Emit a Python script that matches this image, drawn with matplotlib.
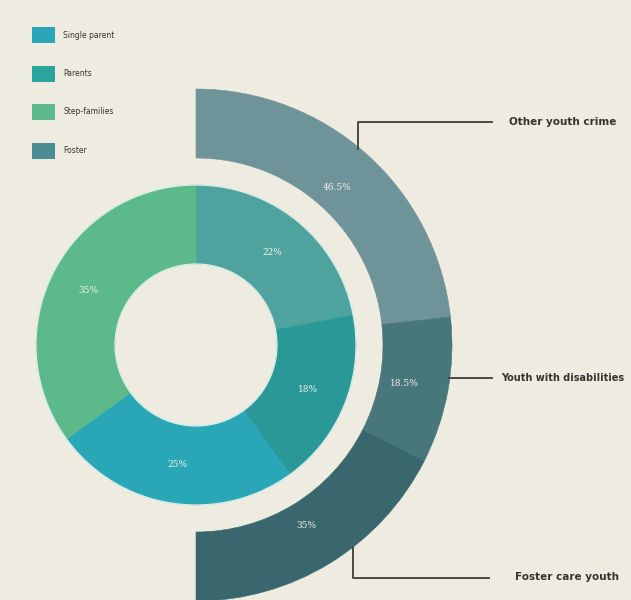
import numpy as np
import matplotlib.pyplot as plt

# inner ring: family background
inner_values = [22, 18, 25, 35]
inner_colors = ['#4fa39f', '#2a9896', '#2aa7b7', '#5cb98a']

# outer half ring: youth groups
outer_values = [46.5, 18.5, 35]
outer_labels = ['Other youth crime', 'Youth with disabilities', 'Foster care youth']
outer_colors = ['#6e9399', '#47777b', '#3a676d']

legend_labels = ['Single parent', 'Parents', 'Step-families', 'Foster']
legend_colors = ['#2aa7b7', '#2ba49e', '#5cb98a', '#4a8d93']

bg = '#eeece1'
W, H = 631, 600

fig = plt.figure(figsize=(W / 100, H / 100), dpi=100, facecolor=bg)
ax = fig.add_axes([0, 0, 1, 1])
ax.set_facecolor(bg)

cx, cy = 196, H - 345
r_in_out, r_in_hole = 160, 81
r_out_out, r_out_in = 256, 187

# inner donut
wedges, _ = ax.pie(inner_values, colors=inner_colors, startangle=90, counterclock=False,
                   center=(cx, cy), radius=r_in_out, frame=True,
                   wedgeprops=dict(width=r_in_out - r_in_hole, linewidth=0))
for w in wedges:
    w.set_edgecolor(w.get_facecolor())
    w.set_linewidth(0.4)
# faint light rim round the donut
for r in (r_in_out, r_in_hole):
    ax.add_patch(plt.Circle((cx, cy), r, fill=False, ec='#d9eee8', lw=0.9))

# outer ring covers the right half only: pad with an invisible remainder
pad = sum(outer_values)
owedges, _ = ax.pie(outer_values + [pad], colors=outer_colors + ['none'], startangle=90,
                    counterclock=False, center=(cx, cy), radius=r_out_out, frame=True,
                    wedgeprops=dict(width=r_out_out - r_out_in, linewidth=0))
owedges[-1].set_visible(False)
for w in owedges[:-1]:
    w.set_edgecolor(w.get_facecolor())
    w.set_linewidth(0.4)

ax.set_xlim(0, W)
ax.set_ylim(0, H)
ax.set_aspect('equal')
ax.axis('off')


def pct(v):
    return ('%g' % v) + '%'


lab_font = dict(color='#f2f2ea', fontsize=6.5, family='DejaVu Serif', ha='center', va='center')
ang = 90.0
tot = sum(inner_values)
r_mid = (r_in_out + r_in_hole) / 2
for v in inner_values:
    a = ang - v / tot * 180
    ang -= v / tot * 360
    ax.text(cx + r_mid * np.cos(np.radians(a)), cy + r_mid * np.sin(np.radians(a)), pct(v), **lab_font)

ang = 90.0
tot = sum(outer_values)
r_mid = 212
for v in outer_values:
    a = ang - v / tot * 90
    ang -= v / tot * 180
    ax.text(cx + r_mid * np.cos(np.radians(a)), cy + r_mid * np.sin(np.radians(a)), pct(v), **lab_font)

# leader lines to the outer labels
line_kw = dict(color='#4a4a46', lw=1.4, solid_capstyle='butt')
ax.plot([358, 358, 493], [H - 150, H - 122, H - 122], **line_kw)
ax.plot([448, 493], [H - 378, H - 378], **line_kw)
ax.plot([353, 353, 490], [H - 546, H - 578, H - 578], **line_kw)

txt_kw = dict(color='#333330', fontweight='bold', va='center', ha='left')
ax.text(509, H - 122, outer_labels[0], fontsize=7.5, **txt_kw)
ax.text(501, H - 378, outer_labels[1], fontsize=7.0, **txt_kw)
ax.text(515, H - 577, outer_labels[2], fontsize=7.5, **txt_kw)

# legend
for i, (name, col) in enumerate(zip(legend_labels, legend_colors)):
    y = H - (35 + i * 38.5)
    ax.add_patch(plt.Rectangle((32, y - 8), 23, 16, color=col, lw=0))
    ax.text(63, y, name, color='#333331', fontsize=5.5, va='center', ha='left')

fig.savefig('out.png', dpi=100, facecolor=bg)
